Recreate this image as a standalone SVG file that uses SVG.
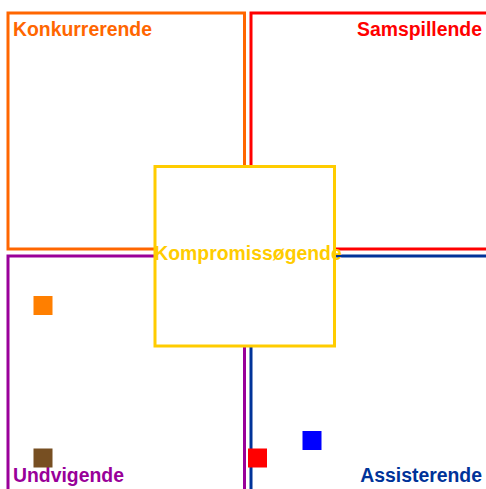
<svg xmlns="http://www.w3.org/2000/svg" width="486" height="489" viewBox="0 0 486 489">
<style>
.box{fill:none;stroke-width:3}
.lbl{font-family:"Liberation Sans",Arial,sans-serif;font-weight:bold;font-size:19.4px}
</style>
<rect width="486" height="489" fill="#fff"/>
<g id="konkurrerende">
<rect class="box" x="8" y="13" width="236.5" height="236" stroke="#FF6600"/>
<text class="lbl" x="13" y="36" fill="#FF6600">Konkurrerende</text>
</g>
<g id="samspillende">
<rect class="box" x="251" y="13" width="245" height="236" stroke="#FF0000"/>
<text class="lbl" x="482" y="36" fill="#FF0000" text-anchor="end">Samspillende</text>
</g>
<g id="undvigende">
<rect class="box" x="8" y="256" width="236.5" height="245" stroke="#990099"/>
<text class="lbl" x="13" y="482" fill="#990099">Undvigende</text>
</g>
<g id="assisterende">
<rect class="box" x="251" y="256" width="245" height="245" stroke="#003399"/>
<text class="lbl" x="482" y="482" fill="#003399" text-anchor="end">Assisterende</text>
</g>
<g id="kompromissogende">
<rect class="box" x="155" y="166.5" width="179.5" height="179.5" stroke="#FFCC00" style="fill:#fff"/>
<text class="lbl" x="248" y="260" fill="#FFCC00" text-anchor="middle">Kompromissøgende</text>
</g>
<g id="markers">
<rect x="33.5" y="296" width="19" height="19" fill="#FF7F00"/>
<rect x="33.5" y="448.5" width="19" height="19" fill="#774F22"/>
<rect x="248" y="448.5" width="19" height="19" fill="#FF0000"/>
<rect x="302.5" y="431" width="19" height="19" fill="#0000FF"/>
</g>
<g id="connectors"/>
</svg>
